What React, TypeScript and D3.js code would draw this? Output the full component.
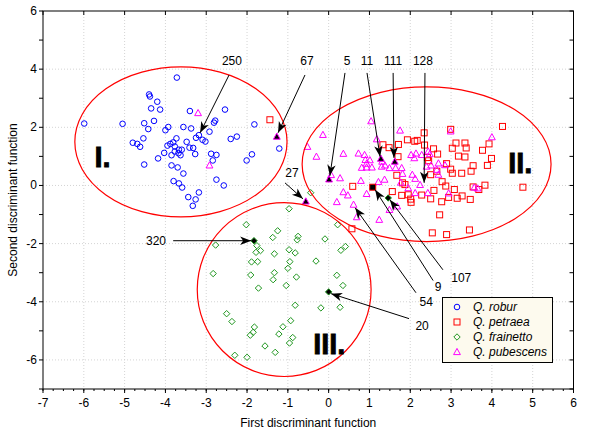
import React from "react";
import * as d3 from "d3";

// Q. robur (blue circles)
const roburX = [-5.99,-5.05,-3.72,-4.40,-4.38,-4.20,-4.35,-4.13,-3.40,-2.54,-4.52,-4.28,-4.42,-3.93,-4.00,-3.56,-3.37,-2.81,-2.78,-1.82,-2.92,-3.18,-3.25,-3.09,-3.02,-2.40,-2.25,-1.21,-4.80,-4.69,-4.62,-4.54,-3.73,-3.81,-3.88,-3.77,-3.95,-3.48,-3.41,-3.32,-3.60,-3.67,-3.77,-3.68,-4.03,-3.85,-3.63,-3.27,-4.18,-2.88,-2.75,-2.84,-1.88,-2.01,-4.52,-3.85,-3.70,-3.56,-2.75,-2.57,-3.80,-3.67,-3.59,-3.18,-3.26,-3.44,-3.33];
const roburY = [2.13,2.12,3.71,3.13,3.06,2.88,2.65,2.61,2.56,2.61,2.14,2.22,1.94,2.01,1.90,2.01,1.96,2.16,2.23,2.10,1.85,1.73,1.64,1.57,1.51,1.60,1.68,1.27,1.47,1.43,1.33,1.62,1.62,1.48,1.43,1.34,1.37,1.50,1.30,1.29,1.23,1.23,1.17,1.11,1.12,1.04,1.04,1.08,0.93,1.09,1.05,0.86,1.07,0.86,0.72,0.69,0.62,0.41,0.20,0.00,0.15,0.07,-0.07,-0.24,-0.48,-0.40,-0.70];

// Q. petraea (red squares)
const petraeaX = [-1.44,2.99,4.26,2.34,1.93,2.11,2.17,2.35,1.33,1.48,1.71,2.57,2.67,3.12,3.34,3.37,3.03,3.18,3.34,3.77,3.93,3.99,3.89,3.54,3.49,3.26,3.03,2.99,2.89,2.45,2.50,2.65,2.42,1.70,1.67,1.81,0.59,1.87,1.56,1.79,2.01,2.02,2.28,2.50,2.58,2.78,2.87,3.08,2.94,3.15,3.27,3.47,2.77,3.54,3.68,3.83,4.76,2.72,0.57,2.54,2.89,3.45,1.95];
const petraeaY = [2.26,1.93,2.03,1.81,1.57,1.52,1.55,1.39,1.40,1.30,1.41,1.26,1.08,1.46,1.46,1.29,1.28,1.01,0.98,1.21,1.43,0.93,0.69,0.68,0.49,0.42,0.42,0.56,0.75,0.85,0.37,0.49,0.96,0.99,0.35,0.09,-0.03,0.03,-0.21,-0.34,-0.47,-0.58,-0.33,-0.46,-0.17,0.13,-0.02,-0.14,-0.41,-0.44,-0.36,-0.48,-0.56,-0.05,-0.14,0.01,-0.06,-1.01,-1.49,-1.63,-1.69,-1.53,-0.32];

// Q. frainetto (green diamonds)
const frainettoX = [-0.44,-0.97,-2.02,-1.25,-1.37,-0.75,-0.77,-2.77,-1.76,-1.78,-1.67,-1.33,-0.97,-0.82,-1.89,-1.74,-0.95,-1.00,-2.83,-1.91,-1.33,-1.36,-0.79,-1.04,-1.72,0.22,-0.09,0.41,0.30,-0.31,0.20,0.35,-0.82,-0.19,0.28,-2.50,-2.37,-0.93,-1.82,-1.85,-1.92,-1.12,-1.22,-0.88,-0.96,-1.56,-1.31,-2.30,-2.00];
const frainettoY = [-0.25,-0.80,-1.35,-1.56,-1.79,-1.75,-1.87,-2.05,-2.07,-2.30,-2.24,-2.35,-2.21,-2.32,-2.63,-2.62,-2.62,-2.85,-3.03,-3.08,-3.00,-3.24,-3.15,-3.44,-3.53,-1.35,-1.84,-2.10,-2.23,-2.60,-3.09,-3.44,-4.12,-4.21,-4.19,-4.41,-4.68,-4.65,-4.87,-5.05,-5.15,-4.86,-5.11,-5.23,-5.42,-5.52,-5.74,-5.84,-5.91];

// Q. pubescens (magenta triangles)
const pubescensX = [-3.20,-2.92,1.04,-0.14,-0.52,-0.30,1.75,1.18,2.99,4.00,0.36,0.73,0.88,0.90,1.01,0.93,0.81,0.93,1.06,0.79,0.28,0.06,1.22,1.37,1.31,1.30,1.38,1.49,1.64,1.79,1.81,2.02,2.14,2.10,2.28,2.44,2.48,2.40,2.51,2.69,2.85,2.65,2.69,2.05,2.12,2.24,2.43,2.12,1.95,2.94,3.57,3.65,0.36,0.47,0.20,0.61,0.69,0.93,1.24,1.49,1.68,1.77];
const pubescensY = [2.49,0.69,2.21,1.74,1.33,0.99,1.89,1.59,1.86,1.66,1.09,1.10,1.05,0.88,0.87,0.75,0.61,0.62,0.62,0.16,0.25,0.36,0.12,0.20,0.82,0.65,0.69,0.60,0.60,0.60,0.40,1.05,1.10,0.94,1.05,1.17,1.08,0.65,0.69,0.76,0.70,0.54,0.37,0.37,0.23,0.02,-0.26,-0.26,-0.09,-0.27,-0.07,-0.10,-0.23,-0.34,-0.57,-0.66,-1.09,-0.29,-1.18,-0.84,-0.72,0.10];

// Highlighted (numbered) specimens
const markedIds = ["67", "5", "11", "111", "27", "9", "320", "20", "107"];
const markedSpecies = ["pubescens", "pubescens", "pubescens", "pubescens", "pubescens", "petraea", "frainetto", "frainetto", "frainetto"];
const markedX = [-1.27, 0.01, 1.28, 1.62, -0.56, 1.08, -1.83, 0.00, 1.46];
const markedY = [1.68, 0.21, 0.92, 0.82, -0.55, -0.06, -1.90, -3.66, -0.43];

// Annotation labels and arrows
const noteText = ["250", "67", "5", "11", "111", "128", "27", "320", "20", "54", "9", "107"];
const noteLabelX = [-2.37, -0.53, 0.45, 0.94, 1.58, 2.31, -0.90, -4.23, 2.29, 2.39, 2.68, 3.25];
const noteLabelY = [4.29, 4.29, 4.29, 4.29, 4.29, 4.29, 0.44, -1.90, -4.85, -4.00, -3.48, -3.17];
const noteFromX = [-2.44, -0.58, 0.40, 0.94, 1.58, 2.36, -1.07, -3.81, 1.97, 2.14, 2.56, 2.80];
const noteFromY = [3.80, 3.80, 3.87, 3.87, 3.87, 3.87, 0.09, -1.90, -4.58, -3.69, -3.27, -2.90];
const noteToX = [-3.15, -1.24, 0.03, 1.26, 1.60, 2.34, -0.63, -1.90, 0.06, 0.65, 1.14, 1.50];
const noteToY = [1.81, 1.81, 0.33, 0.99, 0.95, 0.09, -0.46, -1.90, -3.72, -0.77, -0.15, -0.49];

// Group ellipses
const groupNames = ["I.", "II.", "III."];
const ellCX = [-3.62, 2.40, -1.09];
const ellCY = [1.50, 0.73, -3.58];
const ellRX = [2.60, 3.05, 2.13];
const ellRY = [2.58, 2.66, 2.99];
const groupLabelX = [-5.74, 4.40, -0.38];
const groupLabelY = [0.64, 0.44, -5.80];

const xTicks = [-7, -6, -5, -4, -3, -2, -1, 0, 1, 2, 3, 4, 5, 6];
const yTicks = [-6, -4, -2, 0, 2, 4, 6];

const legendNames = ["Q. robur", "Q. petraea", "Q. frainetto", "Q. pubescens"];
const legendKeys = ["robur", "petraea", "frainetto", "pubescens"];

const COLORS: Record<string, string> = {
  robur: "#0000ff",
  petraea: "#ff0000",
  frainetto: "#1e961e",
  pubescens: "#ff00ff",
};

const W = 600, H = 435;
const L = 43, R = 573.5, T = 11, B = 389;

function Marker({ kind, cx, cy, fill }: { kind: string; cx: number; cy: number; fill?: string }) {
  const c = COLORS[kind];
  const f = fill || "none";
  if (kind === "robur") return <circle cx={cx} cy={cy} r={2.8} fill={f} stroke={c} strokeWidth={1} />;
  if (kind === "petraea") return <rect x={cx - 3} y={cy - 3} width={6} height={6} fill={f} stroke={c} strokeWidth={1} />;
  if (kind === "frainetto")
    return <path d={`M${cx},${cy - 3.2}L${cx + 3.2},${cy}L${cx},${cy + 3.2}L${cx - 3.2},${cy}Z`} fill={f} stroke={c} strokeWidth={1} />;
  return <path d={`M${cx},${cy - 3.6}L${cx + 3.4},${cy + 2.6}L${cx - 3.4},${cy + 2.6}Z`} fill={f} stroke={c} strokeWidth={1} />;
}

export default function App() {
  const x = d3.scaleLinear().domain([-7, 6]).range([L, R]);
  const y = d3.scaleLinear().domain([-7, 6]).range([B, T]);
  const xMinor = d3.range(-7, 6.001, 0.25);
  const yMinor = d3.range(-7, 6.001, 1);
  const xGrid = d3.range(-6, 6, 1);
  const yGrid = [-6, -4, -2, 0, 2, 4];

  const series = [
    { key: "robur", xs: roburX, ys: roburY },
    { key: "petraea", xs: petraeaX, ys: petraeaY },
    { key: "frainetto", xs: frainettoX, ys: frainettoY },
    { key: "pubescens", xs: pubescensX, ys: pubescensY },
  ];

  const font = "'Liberation Sans', Arial, sans-serif";

  return (
    <svg width={W} height={H} style={{ display: "block", position: "absolute", left: 0, top: 0 }} fontFamily={font}>
      <defs>
        <marker id="ah" viewBox="-12 -5 13 10" refX={0} refY={0} markerWidth={13} markerHeight={10} markerUnits="userSpaceOnUse" orient="auto">
          <path d="M0,0L-11,-4.2L-8,0L-11,4.2Z" fill="#000" />
        </marker>
      </defs>
      <rect x={0} y={0} width={W} height={H} fill="#fff" />
      {/* grid */}
      {xGrid.map((v) => (
        <line key={"gx" + v} x1={x(v)} x2={x(v)} y1={T} y2={B} stroke="#d4d4d4" strokeWidth={1} strokeDasharray="1,2" />
      ))}
      {yGrid.map((v) => (
        <line key={"gy" + v} x1={L} x2={R} y1={y(v)} y2={y(v)} stroke="#d4d4d4" strokeWidth={1} strokeDasharray="1,2" />
      ))}
      {/* frame */}
      <rect x={L} y={T} width={R - L} height={B - T} fill="none" stroke="#000" strokeWidth={1} />
      {/* ticks */}
      {xTicks.map((v) => (
        <line key={"xt" + v} x1={x(v)} x2={x(v)} y1={B} y2={B + 4} stroke="#000" />
      ))}
      {xMinor.map((v) => (
        <line key={"xm" + v} x1={x(v)} x2={x(v)} y1={B} y2={B + 2} stroke="#000" />
      ))}
      {xTicks.map((v) => (
        <line key={"xtt" + v} x1={x(v)} x2={x(v)} y1={T} y2={T + 4} stroke="#000" />
      ))}
      {yMinor.map((v) => (
        <line key={"ym" + v} x1={L - 4} x2={L} y1={y(v)} y2={y(v)} stroke="#000" />
      ))}
      {yMinor.map((v) => (
        <line key={"ymr" + v} x1={R - 4} x2={R} y1={y(v)} y2={y(v)} stroke="#000" />
      ))}
      {xTicks.map((v) => (
        <text key={"xl" + v} x={x(v)} y={B + 18} textAnchor="middle" fontSize={12} fill="#000">
          {v}
        </text>
      ))}
      {yTicks.map((v) => (
        <text key={"yl" + v} x={L - 6} y={y(v) + 4} textAnchor="end" fontSize={12} fill="#000">
          {v}
        </text>
      ))}
      <text x={(L + R) / 2} y={427} textAnchor="middle" fontSize={12} fill="#000">
        First discriminant function
      </text>
      <text transform={`translate(17,${(T + B) / 2}) rotate(-90)`} textAnchor="middle" fontSize={12} fill="#000">
        Second discriminant function
      </text>

      {/* points */}
      {series.map((s) =>
        s.xs.map((vx, i) => <Marker key={s.key + i} kind={s.key} cx={x(vx)} cy={y(s.ys[i])} />)
      )}
      {markedX.map((vx, i) => (
        <Marker key={"mk" + i} kind={markedSpecies[i]} cx={x(vx)} cy={y(markedY[i])} fill="#000" />
      ))}

      {/* ellipses */}
      {ellCX.map((cx, i) => (
        <ellipse
          key={"el" + i}
          cx={x(cx)}
          cy={y(ellCY[i])}
          rx={x(cx + ellRX[i]) - x(cx)}
          ry={y(ellCY[i]) - y(ellCY[i] + ellRY[i])}
          fill="none"
          stroke="#ff0000"
          strokeWidth={1.2}
        />
      ))}
      {groupNames.map((g, i) => (
        <text
          key={"gn" + i}
          x={x(groupLabelX[i])}
          y={y(groupLabelY[i])}
          fontSize={29}
          fontWeight="bold"
          fill="#000"
          stroke="#000"
          strokeWidth={0.8}
        >
          {g}
        </text>
      ))}

      {/* annotations */}
      {noteText.map((t, i) => (
        <g key={"nt" + i}>
          <line
            x1={x(noteFromX[i])}
            y1={y(noteFromY[i])}
            x2={x(noteToX[i])}
            y2={y(noteToY[i])}
            stroke="#000"
            strokeWidth={1}
            markerEnd="url(#ah)"
          />
          <text x={x(noteLabelX[i])} y={y(noteLabelY[i]) + 4} textAnchor="middle" fontSize={12} fill="#000">
            {t}
          </text>
        </g>
      ))}

      {/* legend */}
      <rect x={442.5} y={297.5} width={110} height={65} fill="#fdfaee" stroke="#000" strokeWidth={1} />
      {legendNames.map((n, i) => (
        <g key={"lg" + i}>
          <Marker kind={legendKeys[i]} cx={457} cy={307 + i * 15} />
          <text x={473} y={311 + i * 15} fontSize={12} fontStyle="italic" fill="#000">
            {n}
          </text>
        </g>
      ))}
    </svg>
  );
}
